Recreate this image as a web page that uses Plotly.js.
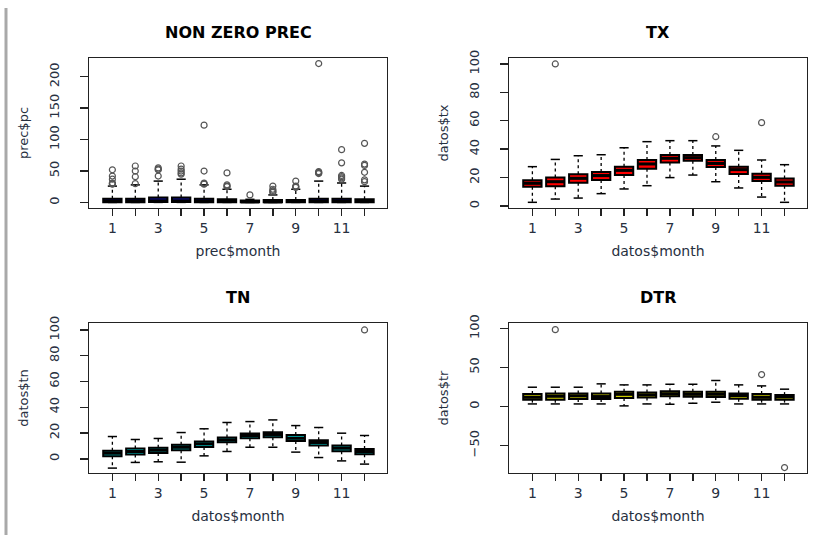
<!DOCTYPE html>
<html>
<head>
<meta charset="utf-8">
<script src="https://cdn.plot.ly/plotly-3.0.1.min.js"></script>
<style>html,body{margin:0;padding:0;background:#fff;}#chart{width:834px;height:535px;}</style>
</head>
<body>
<div id="chart"></div>
<script>
// ---------- data ----------
const months = [1,2,3,4,5,6,7,8,9,10,11,12];
const monthLabels = ['1','','3','','5','','7','','9','','11',''];

// NON ZERO PREC (prec$pc)
const precQ1  = [0.5,0.5,0.6,0.6,0.5,0.4,0.3,0.3,0.4,0.5,0.5,0.5];
const precMed = [2,2,2.5,2.5,2,1.5,1,1,1.5,2,2,2];
const precQ3  = [6,6,8,8,6,5,3,4,4,6,6,5];
const precLo  = [0.1,0.1,0.1,0.1,0.1,0.1,0.1,0.1,0.1,0.1,0.1,0.1];
const precHi  = [26,28,34,37,28,21,5,12,21,34,31,26];
const precOutMonth = [1,1,1,1,1,1, 2,2,2,2, 3,3,3,3, 4,4,4,4,4, 5,5,5,5,5, 6,6,6,6, 7, 8,8,8,8,8, 9,9,9,9, 10,10,10,10,10, 11,11,11,11,11,11, 12,12,12,12,12,12];
const precOutVal   = [52,42,37,31,30,29, 58,50,41,30, 55,53,52,42, 58,53,50,47,45, 123,50,31,30,29, 47,28,26,25, 12, 26,21,19,17,16, 34,26,25,24, 221,49,48,47,46, 84,63,43,41,39,37, 94,61,59,48,36,33];

// TX (datos$tx)
const txQ1  = [13.6,14.0,16.4,18.3,21.8,26.2,30.7,31.9,27.5,22.5,17.6,14.3];
const txMed = [16,17.1,19.5,21.4,25.1,29.6,33.6,34,30,25.6,20.2,16.9];
const txQ3  = [18.1,20.0,22.3,24.0,27.7,32.4,35.9,35.9,32.4,27.7,22.8,19.3];
const txLo  = [2.6,4.9,5.6,8.7,12,14.3,20,21.8,17.1,12.7,6.3,2.6];
const txHi  = [27.7,32.8,35.4,36.1,41,45.3,46,46,42.3,39.2,32.4,29.1];
const txOutMonth = [2,9,11];
const txOutVal   = [100,48.8,58.7];

// TN (datos$tn)
const tnQ1  = [2.0,3.3,4.6,6.7,9.2,12.9,16.0,16.7,13.9,10.3,5.9,3.6];
const tnMed = [4.4,5.7,6.7,9,11.6,14.7,18.1,18.9,16,12.7,8.3,5.7];
const tnQ3  = [6.3,8.1,8.6,10.9,13.5,16.6,19.7,20.7,18.4,14.5,10.4,7.6];
const tnLo  = [-7.2,-2.8,-2.3,-2.6,2.3,5.7,9,9,5.2,1,-1.6,-4.1];
const tnHi  = [17.3,15,15.8,20.4,23.3,28.2,28.9,30.2,25.8,24.3,19.9,18.1];
const tnOutMonth = [12];
const tnOutVal   = [100];

// DTR (datos$tr)
const dtrQ1  = [8.9,8.9,9.7,9.7,11,11.8,13.1,12.7,12.4,10.2,8.9,8.9];
const dtrMed = [12,13.3,13.7,12.8,15.8,15,16.3,15.8,15.8,14.1,12,12.4];
const dtrQ3  = [16,16.8,16.7,16.7,18.9,18.1,19.8,18.9,18.9,16.7,16,14.7];
const dtrLo  = [3.4,3.4,3.4,3.4,0.9,3.4,3,4.3,5.6,3.4,3.4,3.4];
const dtrHi  = [24.8,24.8,24.8,29.1,27.8,27.8,28.6,28.6,33.4,27.8,26.5,22.3];
const dtrOutMonth = [2,11,12];
const dtrOutVal   = [98.5,41,-78];

// ---------- styling ----------
const FONT = 'DejaVu Sans, Arial, sans-serif';
const TXT = '#27303f';
const BOXW = 0.8, CAPW = 0.4;

function panelTraces(n, q1, med, q3, lo, hi, outM, outV, fill) {
  const xa = n === 1 ? 'x' : 'x' + n;
  const ya = n === 1 ? 'y' : 'y' + n;
  const traces = [];
  // whiskers (dashed)
  const wx = [], wy = [];
  months.forEach((m, i) => {
    wx.push(m, m, null, m, m, null);
    wy.push(q3[i], hi[i], null, q1[i], lo[i], null);
  });
  traces.push({type:'scatter', mode:'lines', x:wx, y:wy, xaxis:xa, yaxis:ya,
    line:{color:'#000', width:1.3, dash:'3px,3px'}, hoverinfo:'skip', showlegend:false});
  // staples
  const cx = [], cy = [];
  months.forEach((m, i) => {
    cx.push(m - CAPW/2, m + CAPW/2, null, m - CAPW/2, m + CAPW/2, null);
    cy.push(hi[i], hi[i], null, lo[i], lo[i], null);
  });
  traces.push({type:'scatter', mode:'lines', x:cx, y:cy, xaxis:xa, yaxis:ya,
    line:{color:'#000', width:1.5}, hoverinfo:'skip', showlegend:false});
  // boxes
  traces.push({type:'box', x:months, q1:q1, median:med, q3:q3, lowerfence:q1, upperfence:q3,
    xaxis:xa, yaxis:ya, width:BOXW, whiskerwidth:0, boxpoints:false,
    fillcolor:fill, line:{color:'#000', width:2}, showlegend:false, hoverinfo:'skip'});
  // medians (thick)
  const mx = [], my = [];
  months.forEach((m, i) => {
    mx.push(m - BOXW/2, m + BOXW/2, null);
    my.push(med[i], med[i], null);
  });
  traces.push({type:'scatter', mode:'lines', x:mx, y:my, xaxis:xa, yaxis:ya,
    line:{color:'#000', width:3}, hoverinfo:'skip', showlegend:false});
  // outliers
  traces.push({type:'scatter', mode:'markers', x:outM, y:outV, xaxis:xa, yaxis:ya,
    marker:{symbol:'circle-open', size:6, color:'#555', line:{width:1.2, color:'#555'}},
    hoverinfo:'skip', showlegend:false});
  return traces;
}

const data = [].concat(
  panelTraces(1, precQ1, precMed, precQ3, precLo, precHi, precOutMonth, precOutVal, '#1010a0'),
  panelTraces(2, txQ1, txMed, txQ3, txLo, txHi, txOutMonth, txOutVal, '#ff0000'),
  panelTraces(3, tnQ1, tnMed, tnQ3, tnLo, tnHi, tnOutMonth, tnOutVal, '#00cdcd'),
  panelTraces(4, dtrQ1, dtrMed, dtrQ3, dtrLo, dtrHi, dtrOutMonth, dtrOutVal, '#cdcd00')
);

const W = 834, H = 535;
const colX = [[89, 387], [509, 807]];
const rowY = [[58, 208], [323, 473]];
const dx = c => [colX[c][0]/W, colX[c][1]/W];
const dy = r => [1 - rowY[r][1]/H, 1 - rowY[r][0]/H];

function xAxis(c, r, title) {
  return {
    domain: dx(c), anchor: 'y' + (r*2 + c + 1 === 1 ? '' : (r*2 + c + 1)),
    range: [-0.02, 12.98], tickmode: 'array', tickvals: months, ticktext: monthLabels,
    showline: true, mirror: true, linecolor: '#222', linewidth: 1.4,
    ticks: 'outside', ticklen: 7, tickwidth: 1.4, tickcolor: '#222',
    showgrid: false, zeroline: false,
    tickfont: {family: FONT, size: 14, color: TXT},
    title: {text: title, font: {family: FONT, size: 14, color: TXT}, standoff: 11}
  };
}
function yAxis(c, r, title, range, ticks) {
  return {
    domain: dy(r), anchor: 'x' + (r*2 + c + 1 === 1 ? '' : (r*2 + c + 1)),
    range: range, tickmode: 'array', tickvals: ticks, tickangle: -90,
    showline: true, mirror: true, linecolor: '#222', linewidth: 1.4,
    ticks: 'outside', ticklen: 8, tickwidth: 1.4, tickcolor: '#222',
    showgrid: false, zeroline: false, ticklabelstandoff: 15,
    tickfont: {family: FONT, size: 13, color: TXT},
    title: {text: title, font: {family: FONT, size: 13, color: TXT}, standoff: 16}
  };
}

const titleFont = {family: 'DejaVu Sans, Arial, sans-serif', size: 16, color: '#000', weight: 'bold'};
const mkTitle = (c, r, text) => ({
  text: text, xref: 'paper', yref: 'paper', showarrow: false,
  x: (colX[c][0] + colX[c][1]) / 2 / W, y: 1 - (rowY[r][0] - 26) / H,
  xanchor: 'center', yanchor: 'middle', font: titleFont
});

const layout = {
  width: W, height: H,
  margin: {l: 0, r: 0, t: 0, b: 0, pad: 0},
  paper_bgcolor: '#fff', plot_bgcolor: '#fff',
  showlegend: false,
  xaxis:  xAxis(0, 0, 'prec$month'),
  yaxis:  yAxis(0, 0, 'prec$pc', [-8.8, 229.8], [0, 50, 100, 150, 200]),
  xaxis2: xAxis(1, 0, 'datos$month'),
  yaxis2: yAxis(1, 0, 'datos$tx', [-1.4, 104.2], [0, 20, 40, 60, 80, 100]),
  xaxis3: xAxis(0, 1, 'datos$month'),
  yaxis3: yAxis(0, 1, 'datos$tn', [-11, 105.4], [0, 20, 40, 60, 80, 100]),
  xaxis4: xAxis(1, 1, 'datos$month'),
  yaxis4: yAxis(1, 1, 'datos$tr', [-85, 107], [-50, 0, 50, 100]),
  annotations: [
    mkTitle(0, 0, 'NON ZERO PREC'), mkTitle(1, 0, 'TX'),
    mkTitle(0, 1, 'TN'), mkTitle(1, 1, 'DTR')
  ],
  shapes: [{type: 'line', xref: 'paper', yref: 'paper', x0: 6/W, x1: 6/W, y0: 0, y1: 1 - 8/H,
    line: {color: '#a9a9a9', width: 3}}]
};

Plotly.newPlot('chart', data, layout, {staticPlot: true, displayModeBar: false});
</script>
</body>
</html>
